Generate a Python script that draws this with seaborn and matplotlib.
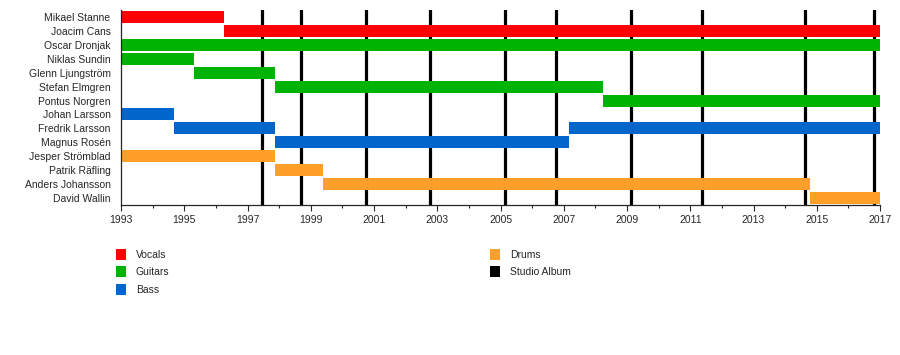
import matplotlib
matplotlib.use("Agg")
import matplotlib.pyplot as plt
from matplotlib.patches import Patch
import seaborn as sns

members = ["Mikael Stanne", "Joacim Cans", "Oscar Dronjak", "Niklas Sundin",
           "Glenn Ljungström", "Stefan Elmgren", "Pontus Norgren", "Johan Larsson",
           "Fredrik Larsson", "Magnus Rosén", "Jesper Strömblad", "Patrik Räfling",
           "Anders Johansson", "David Wallin"]

# one entry per spell in the band: member, start, end, role
spell_member = ["Mikael Stanne", "Joacim Cans", "Oscar Dronjak", "Niklas Sundin",
                "Glenn Ljungström", "Stefan Elmgren", "Pontus Norgren", "Johan Larsson",
                "Fredrik Larsson", "Fredrik Larsson", "Magnus Rosén", "Jesper Strömblad",
                "Patrik Räfling", "Anders Johansson", "David Wallin"]
spell_start = [1993.0, 1996.25, 1993.0, 1993.0, 1995.3, 1997.87, 2008.24, 1993.0,
               1994.68, 2007.17, 1997.87, 1993.0, 1997.87, 1999.39, 2014.79]
spell_end = [1996.25, 2017.0, 2017.0, 1995.3, 1997.87, 2008.24, 2017.0, 1994.68,
             1997.87, 2017.0, 2007.17, 1997.87, 1999.39, 2014.79, 2017.0]
spell_role = ["Vocals", "Vocals", "Guitars", "Guitars", "Guitars", "Guitars", "Guitars",
              "Bass", "Bass", "Bass", "Bass", "Drums", "Drums", "Drums", "Drums"]

albums = [1997.47, 1998.70, 2000.76, 2002.77, 2005.15, 2006.77, 2009.14,
          2011.38, 2014.64, 2016.82]

role_colors = {"Vocals": "#ff0000", "Guitars": "#00b300", "Bass": "#0066cc",
               "Drums": "#ff9e29", "Studio Album": "#000000"}

sns.set_style("ticks")
plt.rcParams["font.family"] = ["Liberation Sans", "DejaVu Sans"]

fig = plt.figure(figsize=(9, 3.55), dpi=100)
ax = fig.add_axes([121 / 900, 1 - 205 / 355, (880 - 121) / 900, 195 / 355])

for x in albums:
    ax.axvline(x, color="black", lw=2.3, zorder=1)

for m, s, e, r in zip(spell_member, spell_start, spell_end, spell_role):
    ax.barh(members.index(m), e - s, left=s, height=0.86,
            color=role_colors[r], edgecolor="none", linewidth=0, zorder=2)

ax.set_yticks(range(len(members)))
ax.set_yticklabels(members, fontsize=7.5)
ax.tick_params(axis="y", length=0, pad=7.5)
ax.set_ylim(len(members) - 0.5, -0.5)

ax.set_xlim(1993, 2017)
ax.set_xticks(range(1993, 2018, 2))
ax.set_xticks(range(1993, 2018), minor=True)
ax.tick_params(axis="x", which="major", length=4, width=0.8, labelsize=7.5, pad=3)
ax.tick_params(axis="x", which="minor", length=2, width=0.8)
sns.despine(ax=ax)
for sp in ax.spines.values():
    sp.set_linewidth(0.9)

def handles(names):
    return [Patch(facecolor=role_colors[n], edgecolor="none", linewidth=0, label=n)
            for n in names]

legend_kw = dict(frameon=False, fontsize=7.5, handlelength=1.0, handleheight=1.25,
                 handletextpad=0.9, labelspacing=0.6, borderaxespad=0, borderpad=0)
fig.legend(handles=handles(["Vocals", "Guitars", "Bass"]), loc="upper left",
           bbox_to_anchor=(116 / 900, 1 - 249 / 355), **legend_kw)
fig.legend(handles=handles(["Drums", "Studio Album"]), loc="upper left",
           bbox_to_anchor=(490 / 900, 1 - 249 / 355), **legend_kw)

fig.savefig("out.png", dpi=100)
